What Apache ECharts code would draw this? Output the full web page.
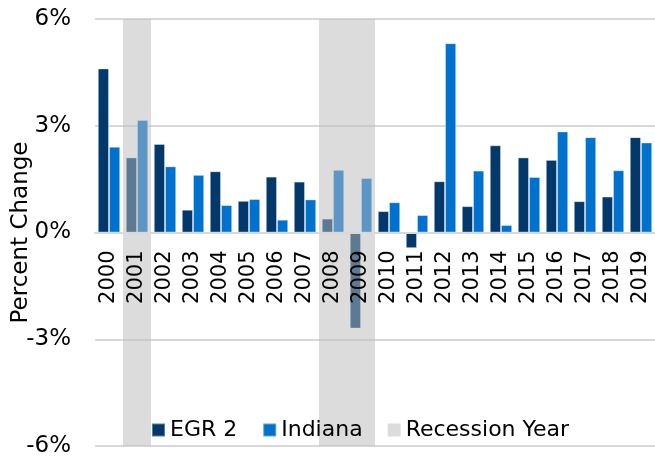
<!DOCTYPE html>
<html>
<head>
<meta charset="utf-8">
<script src="https://cdn.jsdelivr.net/npm/echarts@6/dist/echarts.min.js"></script>
<style>
  html, body { margin: 0; padding: 0; background: #fff; }
  #chart { width: 655px; height: 457px; }
</style>
</head>
<body>
<div id="chart"></div>
<script>
// categories and values
const years = ['2000', '2001', '2002', '2003', '2004', '2005', '2006', '2007', '2008', '2009',
  '2010', '2011', '2012', '2013', '2014', '2015', '2016', '2017', '2018', '2019']
const egr2 = [4.61, 2.11, 2.49, 0.64, 1.72, 0.89, 1.57, 1.43, 0.39, -2.70,
  0.60, -0.44, 1.44, 0.74, 2.45, 2.11, 2.04, 0.88, 1.01, 2.68]
const indiana = [2.41, 3.16, 1.86, 1.62, 0.77, 0.94, 0.36, 0.93, 1.76, 1.53,
  0.85, 0.49, 5.32, 1.74, 0.21, 1.56, 2.84, 2.68, 1.75, 2.53]
const recessionYears = ['2001', '2008', '2009']
const yTicks = [-6, -3, 0, 3, 6]

const font = 'DejaVu Sans'
const gridTop = 19
const gridBottom = 11
const plotHeight = 457 - gridTop - gridBottom
// x 轴放在 0 线上（v6 里 onZero 没生效，用 offset 往上挪）
const zeroOffset = -plotHeight * (0 - yTicks[0]) / (yTicks[yTicks.length - 1] - yTicks[0])

const chart = echarts.init(document.getElementById('chart'))

chart.setOption({
  animation: false,
  textStyle: { fontFamily: font },
  grid: { left: 95, right: 0, top: gridTop, bottom: gridBottom, containLabel: false, outerBoundsMode: 'none' },
  legend: {
    left: 151,
    top: 419,
    z: 20,
    padding: 0,
    icon: 'rect',
    itemWidth: 13,
    itemHeight: 13,
    itemGap: 25,
    textStyle: { fontSize: 22, color: '#000', fontFamily: font },
    data: ['EGR 2', 'Indiana', 'Recession Year']
  },
  xAxis: {
    type: 'category',
    data: years,
    position: 'bottom',
    offset: zeroOffset,
    z: 20,
    axisLine: { onZero: false, lineStyle: { color: '#d9d9d9', width: 2 } },
    axisTick: { show: false },
    axisLabel: { rotate: 90, margin: 18, interval: 0, hideOverlap: false, fontSize: 21, color: '#000', fontFamily: font }
  },
  yAxis: {
    type: 'value',
    min: yTicks[0],
    max: yTicks[yTicks.length - 1],
    interval: 3,
    name: 'Percent Change',
    nameLocation: 'middle',
    nameGap: 62,
    nameMoveOverlap: false,
    nameTextStyle: { fontSize: 23, color: '#000', fontFamily: font },
    axisLabel: { formatter: '{value}%', margin: 24, fontSize: 23, color: '#000', fontFamily: font },
    axisLine: { show: false },
    axisTick: { show: false },
    splitLine: { lineStyle: { color: '#d9d9d9', width: 2 } }
  },
  series: [
    {
      name: 'EGR 2',
      type: 'bar',
      data: egr2,
      barGap: '0%',
      barCategoryGap: '20%',
      itemStyle: { color: '#02386a', borderColor: 'rgba(255,255,255,0.35)', borderWidth: 1 }
    },
    {
      name: 'Indiana',
      type: 'bar',
      data: indiana,
      itemStyle: { color: '#0072ce', borderColor: 'rgba(255,255,255,0.35)', borderWidth: 1 }
    },
    {
      // 衰退年份阴影，盖在柱子上面
      name: 'Recession Year',
      type: 'custom',
      z: 10,
      itemStyle: { color: '#dcdcdc' },
      data: recessionYears.map(y => [y]),
      renderItem (params, api) {
        const idx = api.value(0)
        const w = api.size([1, 0])[0]
        const top = api.coord([idx, yTicks[yTicks.length - 1]])
        const bottom = api.coord([idx, yTicks[0]])
        return {
          type: 'rect',
          shape: { x: top[0] - w / 2, y: top[1], width: w, height: bottom[1] - top[1] },
          style: { fill: 'rgba(186,186,186,0.5)' }
        }
      }
    }
  ]
})
</script>
</body>
</html>
